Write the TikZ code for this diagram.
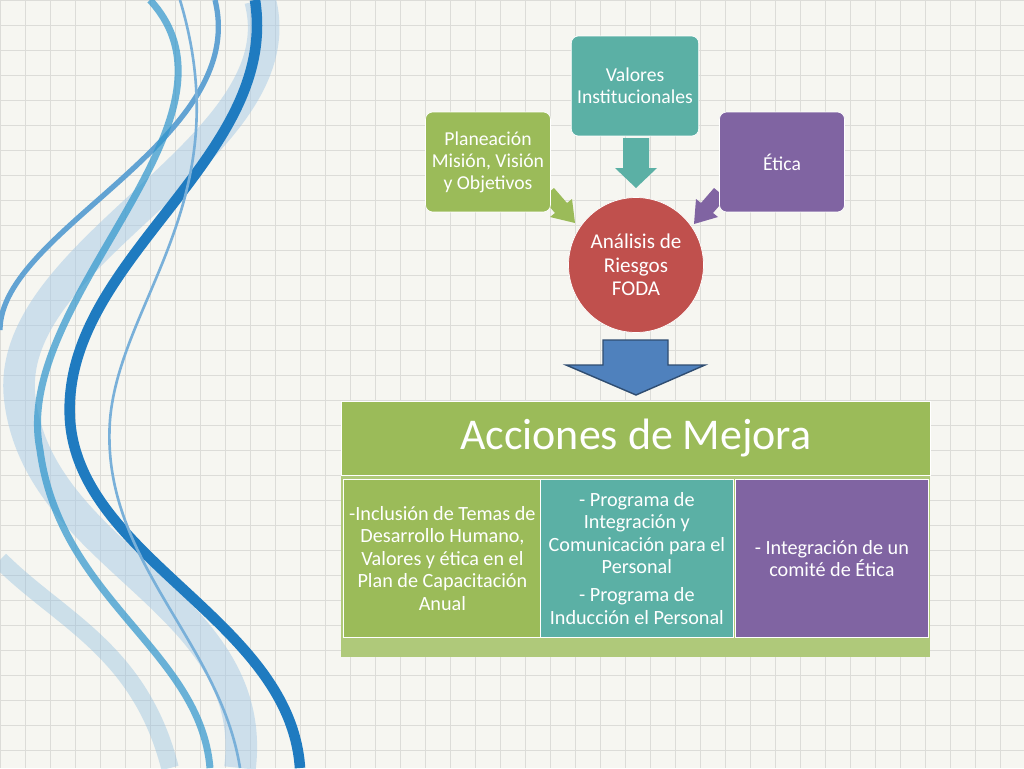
\documentclass[tikz,border=0pt]{standalone}
\usepackage{fontspec}
\setmainfont{Carlito}
\definecolor{fodagreen}{HTML}{9BBB59}
\definecolor{fodateal}{HTML}{5BB0A5}
\definecolor{fodapurple}{HTML}{8064A2}
\definecolor{fodared}{HTML}{C0504D}
\definecolor{fodablue}{HTML}{4F81BD}
\definecolor{swirl}{HTML}{1F7BC0}
\definecolor{paper}{HTML}{F6F6F1}
\definecolor{gridline}{HTML}{DCDCD8}
\tikzset{
  topbox/.style={draw=white, rounded corners=4pt, minimum width=2.5cm, minimum height=2cm,
    text=white, align=center, font=\fontsize{11.2}{12.6}\selectfont},
  lowbox/.style={draw=white, minimum width=3.86cm, minimum height=3.16cm,
    text=white, align=center, font=\fontsize{11.5}{12.8}\selectfont}
}
\begin{document}
\begin{tikzpicture}[x=0.02cm, y=-0.02cm]
  \useasboundingbox (0,0) rectangle (1024,768);
  \fill[paper] (0,0) rectangle (1024,768);
  \foreach \g in {0,25,...,1024}
    \draw[gridline, line width=0.5pt] (\g,0) -- (\g,768);
  \foreach \g in {0,25,...,768}
    \draw[gridline, line width=0.5pt] (0,\g) -- (1024,\g);
  % swirls
  \begin{scope}
  \clip (0,0) rectangle (1024,768);
  \draw[swirl!40, line width=18pt, opacity=0.5] (260,0) .. controls (300,150) and (0,250) .. (20,400) .. controls (40,560) and (260,600) .. (240,768);
  \draw[swirl, line width=6pt] (255,0) .. controls (280,160) and (60,260) .. (70,420) .. controls (80,560) and (290,620) .. (300,768);
  \draw[swirl!70, line width=3pt] (215,0) .. controls (250,140) and (0,230) .. (0,330);
  \draw[cyan!50!swirl, line width=4pt, opacity=0.7] (150,0) .. controls (260,120) and (10,300) .. (40,450) .. controls (60,600) and (200,650) .. (210,768);
  \draw[swirl!60, line width=1.5pt] (180,0) .. controls (240,200) and (120,300) .. (110,420) .. controls (100,560) and (220,640) .. (240,768);
  \draw[swirl!50, line width=10pt, opacity=0.4] (0,560) .. controls (60,620) and (140,650) .. (170,768);
  \end{scope}
  % arrows into the circle
  \fill[fodagreen] (554,188) -- (567,203) -- (572,199) -- (575,223) -- (550,217) -- (555,213) -- (542,198) -- cycle;
  \fill[fodapurple] (714,188) -- (701,203) -- (696,199) -- (694,224) -- (718,217) -- (713,213) -- (726,198) -- cycle;
  \fill[fodateal] (623,138) -- (649,138) -- (649,168) -- (657,168) -- (636,188) -- (615,168) -- (623,168) -- cycle;
  % top row
  \node[topbox, fill=fodateal] (valores) at (635,86) {Valores\\Institucionales};
  \node[topbox, fill=fodagreen] (plan) at (488,162) {Planeación\\Misión, Visión\\y Objetivos};
  \node[topbox, fill=fodapurple] (etica) at (782,162) {Ética};
  \node[circle, draw=white, fill=fodared, minimum size=2.7cm, text=white, align=center,
    font=\fontsize{12}{13.5}\selectfont] (foda) at (636,265) {Análisis de\\Riesgos\\FODA};
  \filldraw[fill=fodablue, draw=fodablue!60!black, line width=0.8pt]
    (603,340) -- (668,340) -- (668,365) -- (705,365) -- (636,395) -- (566,365) -- (603,365) -- cycle;
  % lower block
  \fill[fodagreen!80] (341,475) rectangle (930,657);
  \node[draw=white, fill=fodagreen, minimum width=11.78cm, minimum height=1.48cm, text=white,
    font=\fontsize{25}{30}\selectfont, anchor=north west] (acciones) at (341,401) {Acciones de Mejora};
  \node[lowbox, fill=fodagreen, anchor=north west] (b1) at (343,479)
    {-Inclusión de Temas de\\Desarrollo Humano,\\Valores y ética en el\\Plan de Capacitación\\Anual};
  \node[lowbox, fill=fodateal, anchor=north west] (b2) at (540,479)
    {- Programa de\\Integración y\\Comunicación para el\\Personal\\[3pt]- Programa de\\Inducción el Personal};
  \node[lowbox, fill=fodapurple, anchor=north west] (b3) at (735,479)
    {- Integración de un\\comité de Ética};
\end{tikzpicture}
\end{document}
